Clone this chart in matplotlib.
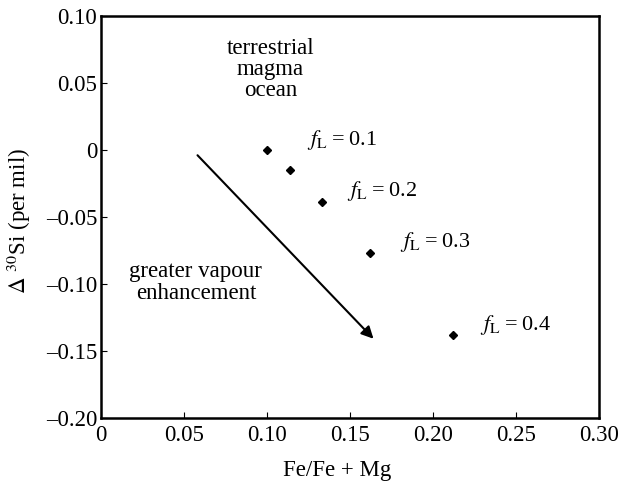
import matplotlib
matplotlib.use("Agg")
import matplotlib.pyplot as plt

plt.rcParams['font.family'] = 'serif'
plt.rcParams['font.serif'] = ['Liberation Serif', 'DejaVu Serif']
plt.rcParams['mathtext.fontset'] = 'stix'

# data
fe_ratio = [0.100, 0.114, 0.133, 0.162, 0.212]
delta_si = [0.0, -0.015, -0.039, -0.077, -0.138]
fl_labels = ['0.1', '0.2', '0.3', '0.4']
fl_label_x = [0.124, 0.148, 0.180, 0.228]
fl_label_y = [0.0075, -0.031, -0.069, -0.131]
arrow_start = (0.058, -0.004)
arrow_end = (0.164, -0.141)
xticks = [0, 0.05, 0.10, 0.15, 0.20, 0.25, 0.30]
xtick_labels = ['0', '0.05', '0.10', '0.15', '0.20', '0.25', '0.30']
yticks = [-0.20, -0.15, -0.10, -0.05, 0, 0.05, 0.10]
ytick_labels = ['\u20130.20', '\u20130.15', '\u20130.10', '\u20130.05', '0', '0.05', '0.10']

fig = plt.figure(figsize=(6.21, 4.83), dpi=100)
ax = fig.add_axes([0.163, 0.135, 0.802, 0.832])

ax.plot(fe_ratio, delta_si, linestyle='none', marker='D', markersize=4.5,
        color='black')

for lab, lx, ly in zip(fl_labels, fl_label_x, fl_label_y):
    ax.text(lx, ly, r'$f_{\mathrm{L}}$' + '\u2009=\u2009' + lab, fontsize=16,
            ha='left', va='center')

ax.annotate('', xy=arrow_end, xytext=arrow_start,
            arrowprops=dict(arrowstyle='-|>', lw=1.5, color='black',
                            mutation_scale=18, shrinkA=0, shrinkB=0))

ax.text(0.102, 0.060, 'terrestrial\nmagma\nocean', fontsize=16.5,
        ha='center', va='center', linespacing=1.0)
ax.text(0.057, -0.099, 'greater vapour\nenhancement', fontsize=16.5,
        ha='center', va='center', linespacing=1.1)

ax.set_xlim(0, 0.30)
ax.set_ylim(-0.20, 0.10)
ax.set_xticks(xticks)
ax.set_xticklabels(xtick_labels)
ax.set_yticks(yticks)
ax.set_yticklabels(ytick_labels)
ax.tick_params(direction='in', length=4, width=0.8, labelsize=16.5,
               colors='black')
ax.tick_params(axis='x', pad=5)
ax.tick_params(axis='y', pad=3)
for s in ax.spines.values():
    s.set_linewidth(1.8)

ax.set_xlabel('Fe/Fe + Mg', fontsize=16.5, labelpad=9)
ax.xaxis.set_label_coords(0.474, -0.105)
ax.set_ylabel(r'$\Delta$ $^{30}$Si (per mil)', fontsize=16.5, labelpad=4)
ax.yaxis.set_label_coords(-0.137, 0.49)

fig.savefig('out.png', dpi=100)
